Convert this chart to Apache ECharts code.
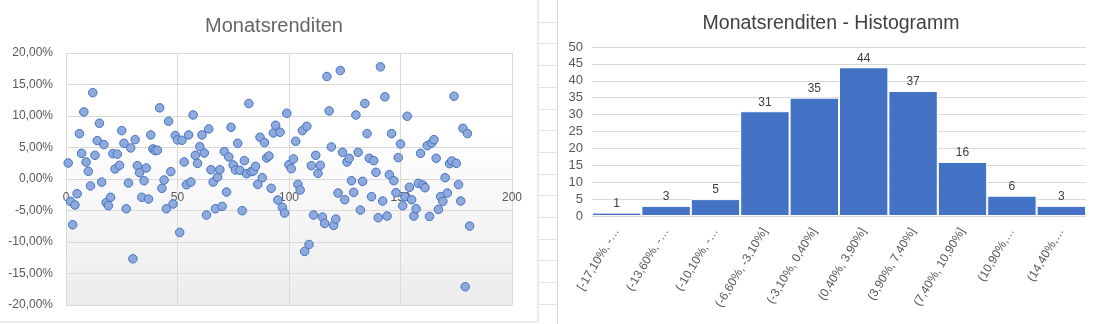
<!DOCTYPE html>
<html><head><meta charset="utf-8">
<script src="https://cdn.jsdelivr.net/npm/echarts@6/dist/echarts.min.js"></script>
<style>html,body{margin:0;padding:0;background:#fff}#c{width:1097px;height:324px}</style>
</head><body><div id="c"></div>
<script>
// Monthly returns in percent, month index 1..181
const monthlyReturns = [
  2.54, -3.55, -7.26, -4.13, -2.33, 7.2, 4.08, 10.65, 2.7, 1.22,
  -1.1, 13.7, 3.76, 6.1, 8.85, -0.5, 5.46, -3.76, -4.24, -2.9,
  4.03, 1.6, 3.95, 2.17, 7.68, 5.67, -4.72, -0.64, 4.93, -12.67,
  6.25, 2.12, 1.0, -2.9, -0.27, 1.75, -3.18, 7.0, 4.77, 4.5,
  4.56, 11.29, -1.48, -0.16, -4.72, 9.17, 1.17, -3.97, 6.89, 6.2,
  -8.48, 6.15, 2.7, -0.9, 7.0, -0.48, 10.17, 3.76, 2.49, 5.14,
  7.0, 4.13, -5.72, 7.95, 1.48, -0.48, -4.72, 0.32, 1.48, -4.35,
  4.35, -2.07, 3.5, 8.21, 2.23, 1.43, 5.67, 1.38, -5.03, 2.91,
  0.85, 11.98, 1.17, 1.27, 2.01, -0.85, 6.62, 0.21, 5.78, 3.34,
  3.66, -1.48, 7.31, 8.53, -3.34, 7.42, -4.5, -5.4, 10.44, 2.28,
  1.64, 3.18, 5.99, -0.85, -1.75, 7.68, -11.5, 8.37, -10.39, 2.12,
  -5.72, 3.76, 0.9, 2.17, -6.04, -7.05, 16.27, 10.81, 5.09, -7.37,
  -6.36, -2.23, 17.22, 4.24, -3.29, 2.7, 3.29, -0.27, -2.12, 10.17,
  4.24, -4.93, -0.37, 11.98, 7.21, 3.29, -2.81, 2.91, 1.06, -6.15,
  17.8, -3.5, 13.04, -5.88, 0.69, 7.21, -0.27, -2.17, 3.39, 5.56,
  -4.24, -2.81, 9.96, -1.32, -3.29, -5.88, -4.72, -0.69, 4.08, -0.95,
  -1.38, 5.3, -5.94, 5.72, 6.25, 3.29, -4.82, -2.81, -3.55, 0.21,
  -2.23, 2.44, 2.86, 13.14, 2.49, -0.9, -3.5, 8.05, -17.1, 7.21,
  -7.47
];

// Histogram bins (labels as displayed, truncated like in the reference) and counts
const binLabels = [
  '[-17,10%, -…', '(-13,60%, -…', '(-10,10%, -…', '(-6,60%, -3,10%]', '(-3,10%, 0,40%]',
  '(0,40%, 3,90%]', '(3,90%, 7,40%]', '(7,40%, 10,90%]', '(10,90%,…', '(14,40%,…'
];
const binCounts = [1, 3, 5, 31, 35, 44, 37, 16, 6, 3];

const leftTitle = 'Monatsrenditen';
const rightTitle = 'Monatsrenditen - Histogramm';

const FONT = '"Liberation Sans", Arial, sans-serif';
const chart = echarts.init(document.getElementById('c'), null, {renderer: 'canvas'});

const scatterData = monthlyReturns.map((v, i) => [i + 1, v]);

// spreadsheet cell lines visible between the two charts
const cellLines = [];
for (let k = 1; k < 15; k++) {
  const y = Math.round(k * 21.7) + 0.5;
  cellLines.push({type: 'line', silent: true, z: -10,
    shape: {x1: 538, y1: y, x2: 557, y2: y},
    style: {stroke: '#e3e3e3', lineWidth: 1}});
}

const SCATTER_GRID_H = 252;

chart.setOption({
  animation: false,
  backgroundColor: '#fff',
  textStyle: {fontFamily: FONT},
  graphic: [
    {type: 'rect', silent: true, z: -5, shape: {x: -1.5, y: -1.5, width: 539.5, height: 323.5},
     style: {fill: '#fff', stroke: '#d9d9d9', lineWidth: 1}},
    {type: 'rect', silent: true, z: -5, shape: {x: 557.5, y: -1.5, width: 541, height: 327},
     style: {fill: '#fff', stroke: '#d9d9d9', lineWidth: 1}}
  ].concat(cellLines),
  title: [
    {text: leftTitle, left: 269, top: 11, textAlign: 'center',
     textStyle: {fontFamily: FONT, fontSize: 20, fontWeight: 'normal', color: '#666666'}},
    {text: rightTitle, left: 826, top: 9, textAlign: 'center',
     textStyle: {fontFamily: FONT, fontSize: 19.5, fontWeight: 'normal', color: '#404040'}}
  ],
  grid: [
    {left: 66, top: 53, width: 446, height: SCATTER_GRID_H, show: true, borderWidth: 0,
     backgroundColor: new echarts.graphic.LinearGradient(0, 0, 0, 1, [
       {offset: 0, color: '#ffffff'}, {offset: 0.3, color: '#ffffff'}, {offset: 1, color: '#ececec'}])},
    {left: 592, top: 47, width: 494, height: 169}
  ],
  xAxis: [
    {gridIndex: 0, type: 'value', min: 0, max: 200, interval: 50,
     position: 'bottom', offset: -SCATTER_GRID_H / 2,
     axisLine: {show: true, onZero: false, lineStyle: {color: '#d9d9d9'}},
     axisTick: {show: false},
     axisLabel: {color: '#595959', fontSize: 12, margin: 13, fontFamily: FONT},
     splitLine: {show: true, lineStyle: {color: '#d9d9d9'}}},
    {gridIndex: 1, type: 'category', data: binLabels,
     axisLine: {show: true, lineStyle: {color: '#d9d9d9'}},
     axisTick: {show: false},
     axisLabel: {interval: 0, rotate: 59, color: '#595959', fontSize: 12, margin: 13, fontFamily: FONT},
     splitLine: {show: false}}
  ],
  yAxis: [
    {gridIndex: 0, type: 'value', min: -20, max: 20, interval: 5,
     axisLine: {show: false, onZero: false}, axisTick: {show: false},
     axisLabel: {color: '#595959', fontSize: 12, margin: 13, fontFamily: FONT,
       formatter: v => v.toFixed(2).replace('.', ',') + '%'},
     splitLine: {show: true, lineStyle: {color: '#d9d9d9'}}},
    {gridIndex: 1, type: 'value', min: 0, max: 50, interval: 5,
     axisLine: {show: false}, axisTick: {show: false},
     axisLabel: {color: '#595959', fontSize: 13, margin: 9, fontFamily: FONT},
     splitLine: {show: true, lineStyle: {color: '#d9d9d9'}}}
  ],
  series: [
    {type: 'scatter', xAxisIndex: 0, yAxisIndex: 0, data: scatterData,
     symbol: 'circle', symbolSize: 8.5,
     itemStyle: {color: '#8eaadc', borderColor: '#4472c4', borderWidth: 1, opacity: 1}},
    {type: 'bar', xAxisIndex: 1, yAxisIndex: 1, data: binCounts,
     barCategoryGap: '0%',
     itemStyle: {color: '#4472c4', borderColor: '#ffffff', borderWidth: 1},
     label: {show: true, position: 'top', distance: 3, color: '#404040', fontSize: 12, fontFamily: FONT}}
  ]
});
</script></body></html>
